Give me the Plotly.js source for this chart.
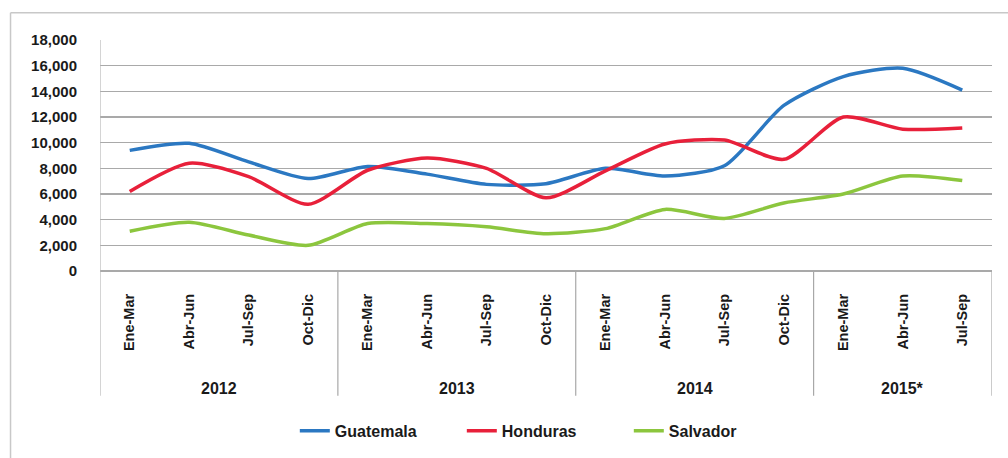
<!DOCTYPE html>
<html>
<head>
<meta charset="utf-8">
<script src="https://cdn.plot.ly/plotly-3.0.1.min.js"></script>
<style>
html,body{margin:0;padding:0;background:#fff;}
#chart{width:1008px;height:458px;}
</style>
</head>
<body>
<div id="chart"></div>
<script>
// ---- data ----
var quarters = ["Ene-Mar","Abr-Jun","Jul-Sep","Oct-Dic",
                "Ene-Mar","Abr-Jun","Jul-Sep","Oct-Dic",
                "Ene-Mar","Abr-Jun","Jul-Sep","Oct-Dic",
                "Ene-Mar","Abr-Jun","Jul-Sep"];
var years = ["2012","2013","2014","2015*"];
var quartersPerYear = [4,4,4,3];
var guatemala = [9400,9950,8500,7200,8150,7550,6750,6800,8000,7400,8200,12900,15150,15800,14100];
var honduras  = [6200,8400,7350,5200,7850,8800,8000,5700,7800,9900,10200,8700,12000,11050,11150];
var salvador  = [3100,3800,2800,2000,3700,3700,3450,2900,3300,4800,4100,5300,6000,7400,7050];
var yTicks = [0,2000,4000,6000,8000,10000,12000,14000,16000,18000];

var idx = quarters.map(function(_, i){ return i; });
var FONT = "Liberation Sans, Arial, sans-serif";

function series(name, vals, color){
  return {
    type: "scatter", mode: "lines", name: name,
    x: idx, y: vals,
    line: {color: color, width: 3.5, shape: "spline", smoothing: 0.7},
    hoverinfo: "skip"
  };
}

var traces = [
  series("Guatemala", guatemala, "#2b78c2"),
  series("Honduras", honduras, "#e8203a"),
  series("Salvador", salvador, "#8cc63e")
];

// group dividers and year labels
var shapes = [];
var annotations = [];
var bottomY = -0.54;
var start = 0;
for (var g = 0; g < years.length; g++) {
  var n = quartersPerYear[g];
  var left = start - 0.5, right = start + n - 0.5;
  annotations.push({
    xref: "x", yref: "paper", x: (left + right) / 2, y: -0.51,
    text: "<b>" + years[g] + "</b>", showarrow: false,
    font: {family: FONT, size: 16, color: "#1a1a1a"},
    xanchor: "center", yanchor: "middle"
  });
  shapes.push({type: "line", xref: "x", yref: "paper",
    x0: right, x1: right, y0: 0, y1: bottomY,
    line: {color: "#a8a8a8", width: 1.2}});
  start += n;
}
// left axis line extending down
shapes.push({type: "line", xref: "x", yref: "paper",
  x0: -0.5, x1: -0.5, y0: 1, y1: bottomY,
  line: {color: "#b8b8b8", width: 1.2}});
// outer frame (top & left)
shapes.push({type: "line", xref: "paper", yref: "paper",
  x0: -0.1003, x1: 1.02, y0: 1.1185, y1: 1.1185,
  line: {color: "#c8c8c8", width: 1.5}});
shapes.push({type: "line", xref: "paper", yref: "paper",
  x0: -0.1003, x1: -0.1003, y0: 1.1185, y1: -0.81,
  line: {color: "#c8c8c8", width: 1.5}});

var layout = {
  width: 1008, height: 458,
  margin: {l: 100, r: 16, t: 40, b: 186},
  paper_bgcolor: "#ffffff", plot_bgcolor: "#ffffff",
  font: {family: FONT, color: "#1a1a1a"},
  showlegend: true,
  legend: {
    orientation: "h", x: 0.2184, xanchor: "left",
    y: -0.685, yanchor: "middle",
    font: {family: FONT, size: 16, weight: "bold", color: "#1a1a1a"},
    entrywidth: 122, entrywidthmode: "pixels", tracegroupgap: 0
  },
  xaxis: {
    range: [-0.5, 14.5],
    tickmode: "array", tickvals: idx, ticktext: quarters.map(function(q){return "<b>"+q+"</b>";}),
    tickangle: -90,
    tickfont: {family: FONT, size: 14.5, color: "#1a1a1a"},
    ticks: "", ticklabelstandoff: 19,
    showgrid: false, zeroline: false, showline: false,
    fixedrange: true
  },
  yaxis: {
    range: [0, 18000],
    tickmode: "array", tickvals: yTicks,
    ticktext: yTicks.map(function(v){ return "<b>" + v.toLocaleString("en-US") + "</b>"; }),
    tickfont: {family: FONT, size: 15, color: "#1a1a1a"},
    ticks: "", ticklabelstandoff: 22,
    showgrid: true, gridcolor: "#a9a9a9", gridwidth: 1.5,
    zeroline: true, zerolinecolor: "#a9a9a9", zerolinewidth: 1.5,
    showline: false, fixedrange: true
  },
  shapes: shapes,
  annotations: annotations
};

Plotly.newPlot("chart", traces, layout, {displayModeBar: false, staticPlot: true});
</script>
</body>
</html>
